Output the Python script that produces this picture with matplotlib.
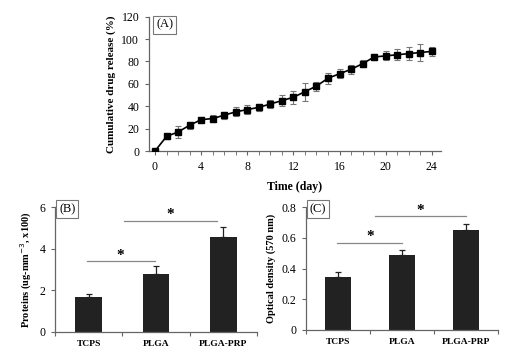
import matplotlib
matplotlib.use("Agg")
import matplotlib.pyplot as plt
import numpy as np

plt.rcParams['font.family'] = ['Liberation Serif', 'DejaVu Serif']

# panel A: cumulative release
days = list(range(25))
release = [0, 13, 17, 23, 28, 29, 32, 35, 37, 39, 42, 45, 48, 53, 58, 65, 69, 73, 78, 84, 85, 86, 87, 88, 89]
release_err = [0, 2, 5, 3, 2, 3, 3, 4, 4, 3, 4, 5, 6, 8, 4, 5, 4, 4, 3, 3, 4, 5, 6, 8, 4]

# panels B and C
groups = ['TCPS', 'PLGA', 'PLGA-PRP']
proteins = [1.68, 2.8, 4.57]
proteins_err = [0.15, 0.35, 0.45]
density = [0.345, 0.49, 0.65]
density_err = [0.03, 0.03, 0.04]

W, H = 530, 361
fig = plt.figure(figsize=(W / 100, H / 100), dpi=100)

def px_axes(l, t, r, b):
    return fig.add_axes([l / W, 1 - b / H, (r - l) / W, (b - t) / H])

def style(ax):
    for s in ['top', 'right']:
        ax.spines[s].set_visible(False)
    for s in ['left', 'bottom']:
        ax.spines[s].set_color('#666666')
        ax.spines[s].set_linewidth(0.9)
    ax.tick_params(colors='#666666', labelcolor='black', labelsize=8.5, length=3, width=0.8, pad=4)

def panel_label(ax, txt, x, y):
    ax.text(x, y, txt, transform=ax.transAxes, fontsize=9, ha='left', va='top',
            bbox=dict(boxstyle='square,pad=0.25', fc='white', ec='#777777', lw=0.8))

# ---- A
ax = px_axes(149, 16.7, 441, 151)
style(ax)
ax.errorbar(days, release, yerr=release_err, color='black', ecolor='#777777', elinewidth=0.8,
            capsize=2, capthick=0.8, marker='s', markersize=4.5, lw=1.2, zorder=3)
ax.set_xlim(-0.52, 24.8)
ax.set_ylim(0, 120)
ax.set_xticks(range(0, 25, 4))
ax.set_xticks(range(25), minor=True)
ax.tick_params(axis='x', which='minor', length=3, colors='#666666')
ax.set_yticks(range(0, 121, 20))
ax.set_ylabel('Cumulative drug release (%)', fontsize=8, fontweight='bold', labelpad=4)
ax.set_xlabel('Time (day)', fontsize=8.5, fontweight='bold', labelpad=6)
panel_label(ax, '(A)', 0.025, 0.985)

def bar_panel(ax, vals, errs, ylim, yticks, ylabel, label, sig):
    style(ax)
    x = np.arange(len(groups))
    ax.bar(x, vals, width=0.4, color='#222222', zorder=2)
    ax.errorbar(x, vals, yerr=[[0] * len(errs), errs], fmt='none', ecolor='#222222',
                elinewidth=0.9, capsize=2.5, capthick=0.9, zorder=3)
    ax.set_xlim(-0.5, 2.5)
    ax.set_ylim(*ylim)
    ax.set_yticks(yticks)
    ax.set_xticks([-0.5, 0.5, 1.5, 2.5])
    ax.set_xticklabels([])
    ax.set_xticks(x, minor=True)
    ax.set_xticklabels(groups, minor=True, fontsize=6.8, fontweight='bold')
    ax.tick_params(axis='x', which='minor', length=0, pad=6)
    ax.set_ylabel(ylabel, fontsize=7.5, fontweight='bold')
    panel_label(ax, label, 0.02, 1.03)
    for x0, x1, y, ys in sig:
        ax.plot([x0, x1], [y, y], color='#888888', lw=0.9, clip_on=False)
        ax.text((x0 + x1) / 2, ys, '*', ha='center', va='center', fontsize=11,
                fontweight='bold', clip_on=False)

# ---- B
axb = px_axes(55, 207, 257, 332)
bar_panel(axb, proteins, proteins_err, (0, 6), [0, 2, 4, 6],
          'Proteins (ug-mm$^{-3}$, x100)', '(B)',
          [(-0.03, 0.98, 3.41, 3.68), (0.53, 1.9, 5.33, 5.62)])

# ---- C
axc = px_axes(306, 207, 498, 330)
bar_panel(axc, density, density_err, (0, 0.8), [0, 0.2, 0.4, 0.6, 0.8],
          'Optical density (570 nm)', '(C)',
          [(-0.01, 1.0, 0.566, 0.61), (0.58, 2.0, 0.74, 0.78)])
axc.set_yticklabels(['0', '0.2', '0.4', '0.6', '0.8'])

fig.savefig('out.png', dpi=100)
